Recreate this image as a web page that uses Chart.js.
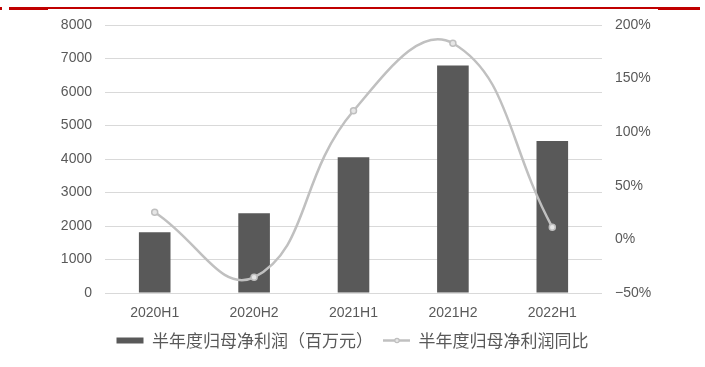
<!DOCTYPE html>
<html>
<head>
<meta charset="utf-8">
<script src="https://cdn.jsdelivr.net/npm/chart.js@4/dist/chart.umd.min.js"></script>
<style>
  html, body { margin: 0; padding: 0; background: #fff; }
  canvas { display: block; }
</style>
</head>
<body>
<canvas id="chart" width="705" height="367"></canvas>
<script>
  // data
  const periods = ['2020H1', '2020H2', '2021H1', '2021H2', '2022H1'];
  const profit = [1810, 2380, 4050, 6790, 4540];      // 百万元
  const profitYoy = [25.4, -35.4, 120, 183, 11.3];   // %
  const seriesNames = ['半年度归母净利润（百万元）', '半年度归母净利润同比'];

  const textGray = '#595959';
  const numFont = { family: '"Liberation Sans", Arial, sans-serif', size: 14 };

  // red header rule from the report template
  const headerRule = {
    id: 'headerRule',
    beforeDraw(chart) {
      const ctx = chart.ctx;
      ctx.save();
      ctx.fillStyle = '#c00000';
      ctx.fillRect(0, 7, 2, 3);
      ctx.fillRect(9, 7, 691, 2);
      ctx.fillRect(9, 7, 39, 3);
      ctx.fillRect(658, 7, 42, 3);
      ctx.restore();
    }
  };

  // little dot in the middle of the line legend symbol
  const legendDot = {
    id: 'legendDot',
    afterDraw(chart) {
      const boxes = chart.legend && chart.legend.legendHitBoxes;
      if (!boxes || !boxes[1]) return;
      const b = boxes[1];
      const ctx = chart.ctx;
      ctx.save();
      ctx.beginPath();
      ctx.arc(b.left + 14, b.top + b.height / 2, 2.2, 0, Math.PI * 2);
      ctx.fillStyle = '#e6e6e6';
      ctx.strokeStyle = '#bfbfbf';
      ctx.lineWidth = 1.2;
      ctx.fill();
      ctx.stroke();
      ctx.restore();
    }
  };

  new Chart(document.getElementById('chart'), {
    type: 'bar',
    data: {
      labels: periods,
      datasets: [
        {
          type: 'bar',
          label: seriesNames[0],
          data: profit,
          backgroundColor: '#595959',
          categoryPercentage: 1,
          barPercentage: 0.318,
          yAxisID: 'y',
          order: 2
        },
        {
          type: 'line',
          label: seriesNames[1],
          data: profitYoy,
          borderColor: '#c0c0c0',
          borderWidth: 2.5,
          tension: 0.45,
          pointRadius: 3,
          pointBorderWidth: 1.5,
          pointBackgroundColor: '#e6e6e6',
          pointBorderColor: '#bfbfbf',
          yAxisID: 'y1',
          order: 1
        }
      ]
    },
    options: {
      responsive: false,
      animation: false,
      layout: { padding: { top: 25, left: 0, right: 0, bottom: 8 } },
      plugins: {
        tooltip: { enabled: false },
        legend: {
          position: 'bottom',
          labels: {
            usePointStyle: true,
            pointStyleWidth: 27,
            boxHeight: 6,
            padding: 10,
            color: textGray,
            font: { family: '"Noto Sans CJK SC", sans-serif', size: 17 },
            sort: (a, b) => a.datasetIndex - b.datasetIndex,
            generateLabels(chart) {
              return chart.data.datasets.map((ds, i) => ({
                text: ds.label,
                datasetIndex: i,
                fillStyle: i === 0 ? '#595959' : '#c0c0c0',
                strokeStyle: i === 0 ? '#595959' : '#c0c0c0',
                lineWidth: i === 0 ? 0 : 2.5,
                pointStyle: i === 0 ? 'rect' : 'line',
                fontColor: textGray,
                hidden: false
              }));
            }
          }
        }
      },
      scales: {
        x: {
          grid: { display: false, drawTicks: false },
          border: { display: false },
          ticks: { color: textGray, font: numFont, padding: 12 },
          afterFit: s => { s.height = 29; }
        },
        y: {
          position: 'left',
          min: 0,
          max: 8000,
          ticks: {
            stepSize: 1000,
            color: textGray,
            font: numFont,
            padding: 13,
            callback: v => String(v)
          },
          grid: { color: '#d9d9d9', lineWidth: 1, drawTicks: false },
          border: { display: false },
          afterFit: s => { s.width = 105; }
        },
        y1: {
          position: 'right',
          min: -50,
          max: 200,
          ticks: {
            stepSize: 50,
            color: textGray,
            font: numFont,
            padding: 13,
            callback: v => (v < 0 ? '\u2212' + Math.abs(v) : v) + '%'
          },
          grid: { display: false, drawTicks: false },
          border: { display: false },
          afterFit: s => { s.width = 103; }
        }
      }
    },
    plugins: [headerRule, legendDot]
  });
</script>
</body>
</html>
